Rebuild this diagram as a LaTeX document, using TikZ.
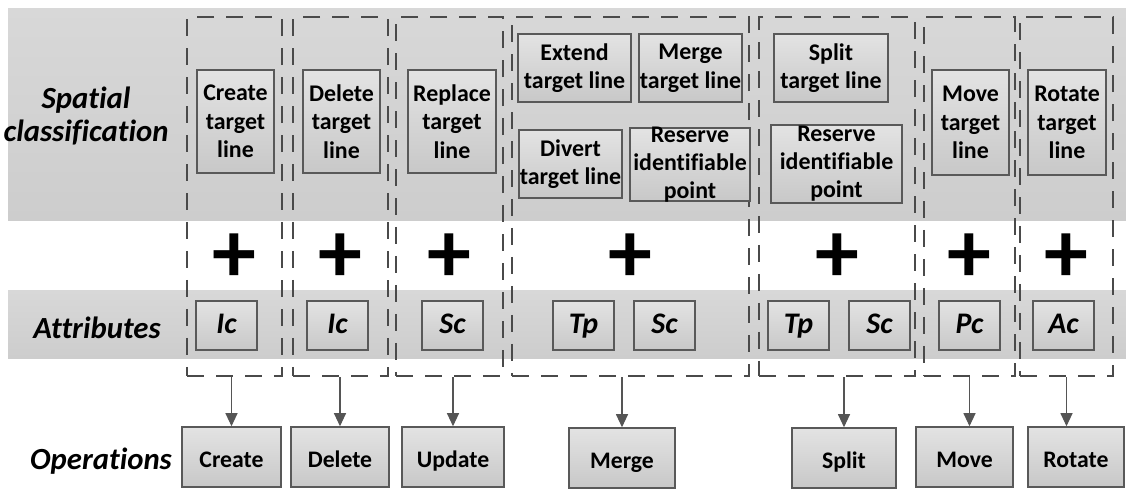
\documentclass[tikz,border=0pt]{standalone}
\usepackage{fontspec}
\setmainfont{Carlito}[Ligatures=NoCommon]
\usetikzlibrary{arrows.meta,positioning}
\definecolor{bandtop}{HTML}{D8D8D8}
\definecolor{bandbottom}{HTML}{CDCDCD}
\definecolor{boxtop}{HTML}{E3E3E3}
\definecolor{boxbottom}{HTML}{C8C8C8}
\definecolor{edgegray}{HTML}{595959}
\definecolor{dashgray}{HTML}{4A4A4A}
\definecolor{arrowgray}{HTML}{555555}

\tikzset{
  spbox/.style={draw=edgegray, line width=0.9pt, top color=boxtop, bottom color=boxbottom,
    inner sep=0pt, align=center, font=\fontsize{13.6}{16.3}\selectfont\bfseries},
  sptext/.style={inner sep=0pt, align=center, font=\fontsize{13.6}{15.9}\selectfont\bfseries},
  attbox/.style={draw=edgegray, line width=0.9pt, top color=boxtop, bottom color=boxbottom,
    inner sep=0pt, minimum width=1.22cm, minimum height=0.98cm, text height=12pt, text depth=3pt,
    font=\fontsize{17}{19}\selectfont\bfseries\itshape},
  opbox/.style={draw=edgegray, line width=0.9pt, top color=boxtop, bottom color=boxbottom,
    inner sep=0pt, minimum height=1.2cm, text height=14pt, text depth=2pt,
    font=\fontsize{13.5}{15}\selectfont\bfseries},
  grpbox/.style={draw=dashgray, line width=1.5pt, dash pattern=on 0.34cm off 0.24cm,
    inner sep=0pt, minimum height=7.18cm},
  rowlabel/.style={align=center, font=\fontsize{17.5}{18.7}\selectfont\bfseries\itshape},
  plussign/.style={inner sep=0pt, font=\fontsize{50}{50}\selectfont\bfseries},
  arr/.style={draw=arrowgray, line width=0.6pt, -{Triangle[width=0.24cm,length=0.26cm]}}
}

\begin{document}
\begin{tikzpicture}[x=0.02cm, y=-0.02cm]
\useasboundingbox (0,0) rectangle (1126,490);
% bands
\shade[top color=bandtop, bottom color=bandbottom] (8,8) rectangle (1126,220);
\shade[top color=bandtop, bottom color=bandbottom] (8,290) rectangle (1126,358);

% row labels
\node[rowlabel] (lblSpatial) at (86,116) {Spatial\\classification};
\node[rowlabel] (lblAttr) at (97,328) {Attributes};
\node[rowlabel] (lblOps) at (101,461) {Operations};

% dashed groups
\node[grpbox, minimum width=1.90cm] (gCreate) at (234.5,196.5) {};
\node[grpbox, minimum width=1.90cm] (gDelete) at (340.5,196.5) {};
\node[grpbox, minimum width=2.14cm] (gReplace) at (449.5,196.5) {};
\node[grpbox, minimum width=4.74cm] (gMerge) at (630.5,196.5) {};
\node[grpbox, minimum width=3.12cm] (gSplit) at (837,196.5) {};
\node[grpbox, minimum width=1.82cm] (gMove) at (969.5,196.5) {};
\node[grpbox, minimum width=1.86cm] (gRotate) at (1066.5,196.5) {};

% spatial classification
\node[spbox, minimum width=1.54cm, minimum height=2.06cm] (sCreate) at (235.5,121.5) {Create\\target\\line};
\node[spbox, minimum width=1.54cm, minimum height=2.06cm] (sDelete) at (341.5,121.5) {Delete\\target\\line};
\node[spbox, minimum width=1.76cm, minimum height=2.06cm] (sReplace) at (452,121.5) {Replace\\target\\line};
\node[spbox, minimum width=2.26cm, minimum height=1.36cm] (sExtend) at (574.5,68) {Extend\\target line};
\node[spbox, minimum width=2.06cm, minimum height=1.36cm] (sMergeLine) at (690.5,68) {Merge\\target line};
\node[spbox, minimum width=2.06cm, minimum height=1.36cm] (sDivert) at (570.5,164) {Divert\\target line};
\node[spbox, minimum width=2.40cm, minimum height=1.46cm] (sReserveA) at (690,164.5) {};
\node[sptext] (sReserveAtext) at (sReserveA.center) {Reserve\\identifiable\\point};
\node[spbox, minimum width=2.28cm, minimum height=1.36cm] (sSplitLine) at (831,68) {Split\\target line};
\node[spbox, minimum width=2.62cm, minimum height=1.56cm] (sReserveB) at (836.5,164) {};
\node[sptext] (sReserveBtext) at (sReserveB.center) {Reserve\\identifiable\\point};
\node[spbox, minimum width=1.54cm, minimum height=2.10cm] (sMove) at (970.5,122.5) {Move\\target\\line};
\node[spbox, minimum width=1.56cm, minimum height=2.10cm] (sRotate) at (1067,122.5) {Rotate\\target\\line};

% plus signs
\foreach \g in {gCreate,gDelete,gReplace,gMerge,gSplit,gMove,gRotate}
  \node[plussign] (plus-\g) at (\g.center |- 0,258) {+};

% attributes
\node[attbox] (aIcA) at (226.5,325.5) {Ic};
\node[attbox] (aIcB) at (337.5,325.5) {Ic};
\node[attbox] (aScA) at (452.5,325.5) {Sc};
\node[attbox] (aTpA) at (583.5,325.5) {Tp};
\node[attbox] (aScB) at (664.5,325.5) {Sc};
\node[attbox] (aTpB) at (798.5,325.5) {Tp};
\node[attbox] (aScC) at (879.5,325.5) {Sc};
\node[attbox] (aPc) at (969.5,325.5) {Pc};
\node[attbox] (aAc) at (1063.5,325.5) {Ac};

% operations
\node[opbox, minimum width=1.98cm] (oCreate) at (231.5,457) {Create};
\node[opbox, minimum width=1.96cm] (oDelete) at (340,457) {Delete};
\node[opbox, minimum width=2.04cm] (oUpdate) at (453,457) {Update};
\node[opbox, minimum width=2.12cm] (oMerge) at (622,458) {Merge};
\node[opbox, minimum width=2.08cm] (oSplit) at (844,458) {Split};
\node[opbox, minimum width=1.94cm] (oMove) at (964.5,457) {Move};
\node[opbox, minimum width=1.92cm] (oRotate) at (1076,457) {Rotate};

% arrows
\draw[arr] (oCreate.north |- gCreate.south) -- (oCreate.north);
\draw[arr] (oDelete.north |- gDelete.south) -- (oDelete.north);
\draw[arr] (oUpdate.north |- gReplace.south) -- (oUpdate.north);
\draw[arr] (oMerge.north |- gMerge.south) -- (oMerge.north);
\draw[arr] (oSplit.north |- gSplit.south) -- (oSplit.north);
\draw[arr] (gMove.south) -- (gMove.south |- oMove.north);
\draw[arr] (gRotate.south) -- (gRotate.south |- oRotate.north);
\end{tikzpicture}
\end{document}
